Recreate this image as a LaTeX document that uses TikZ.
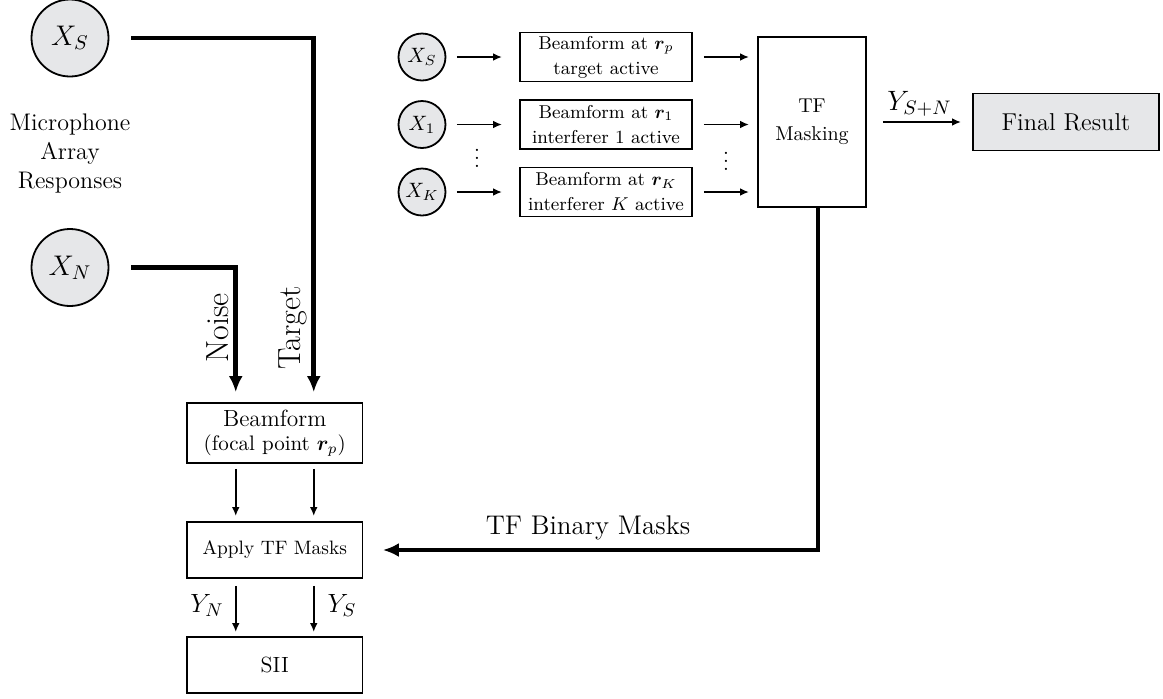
\RequirePackage{fix-cm}
\documentclass[tikz,border=0pt]{standalone}
\usepackage{bm}
\usetikzlibrary{arrows.meta,calc}
\definecolor{fillgray}{RGB}{230,231,233}
\newcommand{\myfs}[2]{\fontsize{#1}{#2}\selectfont}
\tikzset{
  circ/.style={circle, draw, fill=fillgray, line width=0.9pt, inner sep=0pt},
  bigcirc/.style={circ, minimum size=38.5pt, font=\myfs{14.2}{17}},
  smallcirc/.style={circ, minimum size=23.5pt, font=\myfs{10.4}{12}},
  blk/.style={draw, line width=0.9pt, inner sep=0pt, align=center},
  arr/.style={line width=0.9pt, -{Latex[length=4.5pt,width=3.8pt]}},
  tarr/.style={line width=2.3pt, -{Latex[length=8pt,width=7pt]}},
  lbl/.style={inner sep=0pt},
}
\begin{document}
\begin{tikzpicture}[x=0.5pt,y=-0.5pt]
\useasboundingbox (0,0) rectangle (1163,698);

% left column
\node[bigcirc] (XS) at (70,38) {$X_S$};
\node[bigcirc] (XN) at (70,267.5) {$X_N$};
\node[align=center, font=\myfs{12}{14.5}] (mic) at (70,153) {Microphone\\Array\\Responses};

\node[blk, minimum width=87.75pt, minimum height=30pt] (BF) at (274.75,433)
  {{\myfs{11.7}{13.5}Beamform}\\{\myfs{10.5}{13.5}(focal point $\bm{r}_p$)}};
\node[blk, minimum width=87.75pt, minimum height=28pt, font=\myfs{9.7}{12}] (AP) at (274.75,550) {Apply TF Masks};
\node[blk, minimum width=87.75pt, minimum height=28pt, font=\myfs{11}{13}] (SII) at (274.75,665) {SII};

\draw[tarr, shorten <=11pt, shorten >=5pt] (XS.east) -| ($(BF.north)+(39,0)$);
\draw[tarr, shorten <=11pt, shorten >=5pt] (XN.east) -| ($(BF.north)+(-39,0)$);
\node[lbl, rotate=90, font=\myfs{16}{19}] (noise) at (218,328) {Noise};
\node[lbl, rotate=90, font=\myfs{16}{19}] (target) at (292.5,328) {Target};

\draw[arr, shorten <=2.5pt, shorten >=2.5pt] ($(BF.south)+(-39,0)$) -- ($(AP.north)+(-39,0)$);
\draw[arr, shorten <=2.5pt, shorten >=2.5pt] ($(BF.south)+(39,0)$) -- ($(AP.north)+(39,0)$);
\draw[arr, shorten <=3.5pt, shorten >=2pt] ($(AP.south)+(-39,0)$) -- ($(SII.north)+(-39,0)$);
\draw[arr, shorten <=3.5pt, shorten >=2pt] ($(AP.south)+(39,0)$) -- ($(SII.north)+(39,0)$);
\node[font=\myfs{13.2}{15}] (YN) at (207,605) {$Y_N$};
\node[font=\myfs{13.2}{15}] (YS) at (342,605) {$Y_S$};

% right part
\node[smallcirc] (cS) at (422,57) {$X_S$};
\node[smallcirc] (c1) at (422,124.5) {$X_1$};
\node[smallcirc] (cK) at (422,192) {$X_K$};

\node[blk, minimum width=86pt, minimum height=24.5pt, font=\myfs{9.3}{12.5}] (bS) at (606,57) {Beamform at $\bm{r}_p$\\target active};
\node[blk, minimum width=86pt, minimum height=24.5pt, font=\myfs{9.3}{12.5}] (b1) at (606,124.5) {Beamform at $\bm{r}_1$\\interferer 1 active};
\node[blk, minimum width=86pt, minimum height=24.5pt, font=\myfs{9.3}{12.5}] (bK) at (606,192) {Beamform at $\bm{r}_K$\\interferer $K$ active};

\node[blk, minimum width=54pt, minimum height=85pt, font=\myfs{10}{14}] (TF) at (812,122) {TF\\Masking};

\foreach \c/\b in {cS/bS, c1/b1, cK/bK}{
  \draw[arr, shorten <=5.25pt, shorten >=8.5pt] (\c) -- (\b);
  \draw[arr, shorten <=5.5pt, shorten >=4pt] (\b.east) -- (\b.east -| TF.west);
}
\node[lbl, anchor=south, font=\myfs{10.5}{12}] (dotsL) at (477,168) {$\vdots$};
\node[lbl, anchor=south, font=\myfs{10.5}{12}] (dotsR) at (726,171) {$\vdots$};

\node[blk, fill=fillgray, minimum width=93pt, minimum height=28.5pt, font=\myfs{12.2}{14}] (FR) at (1066,122) {Final Result};
\draw[arr, shorten <=8pt, shorten >=5.5pt] (TF.east) -- (FR.west)
  node[midway, above, inner sep=2.5pt, font=\myfs{14}{16}] (ysn) {$Y_{S+N}$};

\draw[tarr, shorten >=9.75pt] ($(TF.south)+(6,0)$) |- (AP.east);
\node[font=\myfs{13.5}{16}] (tfbm) at (588,528) {TF Binary Masks};
\end{tikzpicture}
\end{document}
